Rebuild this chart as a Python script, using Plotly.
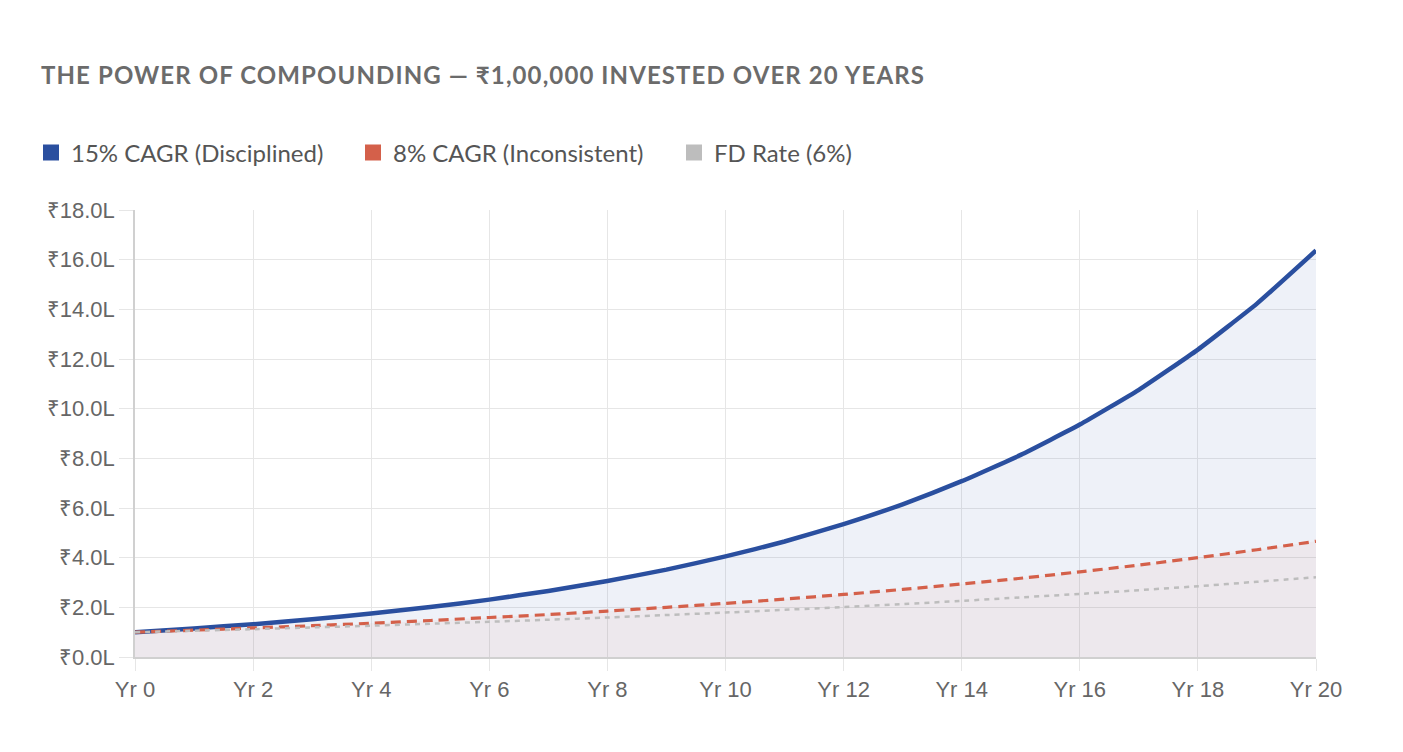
import plotly.graph_objects as go

# === Data (values in lakhs of rupees) ===
years = list(range(21))
year_labels = ["Yr %d" % y for y in years]

cagr_15 = [1.00, 1.15, 1.32, 1.52, 1.75, 2.01, 2.31, 2.66, 3.06, 3.52, 4.05,
           4.65, 5.35, 6.15, 7.08, 8.14, 9.36, 10.76, 12.38, 14.23, 16.37]
cagr_8 = [1.00, 1.08, 1.17, 1.26, 1.36, 1.47, 1.59, 1.71, 1.85, 2.00, 2.16,
          2.33, 2.52, 2.72, 2.94, 3.17, 3.43, 3.70, 4.00, 4.32, 4.66]
fd_6 = [1.00, 1.06, 1.12, 1.19, 1.26, 1.34, 1.42, 1.50, 1.59, 1.69, 1.79,
        1.90, 2.01, 2.13, 2.26, 2.40, 2.54, 2.69, 2.85, 3.03, 3.21]

series_names = ["15% CAGR (Disciplined)", "8% CAGR (Inconsistent)", "FD Rate (6%)"]
y_ticks = [0, 2, 4, 6, 8, 10, 12, 14, 16, 18]

BLUE = "#2a4f9f"
RED = "#d4604a"
GRAY = "#bdbdbd"

W, H = 1403, 752

fig = go.Figure()

# === Lines ===
fig.add_trace(go.Scatter(
    x=years, y=cagr_15, mode="lines", line=dict(color=BLUE, width=4.5, shape="spline", smoothing=0.4),
    fill="tozeroy", fillcolor="rgba(43,79,160,0.08)", showlegend=False, hoverinfo="skip",
))
fig.add_trace(go.Scatter(
    x=years, y=cagr_8, mode="lines",
    line=dict(color=RED, width=3.2, dash="10px,6px", shape="spline", smoothing=0.4),
    fill="tozeroy", fillcolor="rgba(217,95,67,0.06)", showlegend=False, hoverinfo="skip",
))
fig.add_trace(go.Scatter(
    x=years, y=fd_6, mode="lines",
    line=dict(color=GRAY, width=2.5, dash="5px,5px", shape="spline", smoothing=0.4),
    showlegend=False, hoverinfo="skip",
))

# legend swatches, one legend each so they can sit where the reference has them
legend_ids = ["legend", "legend2", "legend3"]
for name, col, lg in zip(series_names, [BLUE, RED, GRAY], legend_ids):
    fig.add_trace(go.Scatter(
        x=[None], y=[None], mode="markers", name=name, legend=lg,
        marker=dict(symbol="square", size=16, color=col, line=dict(width=0)),
    ))

leg_font = dict(family="Lato", size=24, color="#555555")
leg_common = dict(orientation="h", xref="container", yref="container", xanchor="left",
                  y=1 - 145 / H, yanchor="middle", font=leg_font, bgcolor="rgba(0,0,0,0)",
                  itemsizing="trace")

fig.update_layout(
    width=W, height=H,
    paper_bgcolor="white", plot_bgcolor="white",
    margin=dict(l=127, r=95, t=202, b=103),
    title=dict(
        text="<b>THE POWER OF COMPOUNDING — ₹1,00,000 INVESTED OVER 20 YEARS</b>",
        x=33 / W, xanchor="left", y=1 - 68 / H, yanchor="middle",
        font=dict(family="Lato", size=24, color="#6b6b6b"),
    ),
    legend=dict(x=23 / W, **leg_common),
    legend2=dict(x=345 / W, **leg_common),
    legend3=dict(x=666 / W, **leg_common),
    showlegend=True,
)

fig.update_xaxes(
    range=[0, 20], tickvals=years[::2], ticktext=year_labels[::2],
    showgrid=True, gridcolor="#e6e6e6", gridwidth=1.3,
    showline=True, linecolor="#d0d0d0", linewidth=1.5,
    ticks="outside", ticklen=12, tickcolor="#e6e6e6", tickwidth=1.3,
    tickfont=dict(family="Liberation Sans", size=22, color="#666666"),
    zeroline=False,
)
fig.update_yaxes(
    range=[0, 18], tickvals=y_ticks, ticktext=["₹%.1fL" % v for v in y_ticks],
    showgrid=True, gridcolor="#e6e6e6", gridwidth=1.3,
    showline=True, linecolor="#d0d0d0", linewidth=1.5,
    ticks="outside", ticklen=14, tickcolor="#e6e6e6", tickwidth=1.3,
    tickfont=dict(family="Liberation Sans", size=22, color="#666666"),
    zeroline=False,
)

# title letter spacing (css rule, survives redraws)
spacing_js = ("var s=document.createElement('style');"
              "s.textContent='.gtitle{letter-spacing:1.1px;}';"
              "document.head.appendChild(s);")

fig.write_html("out.html", post_script=spacing_js)
